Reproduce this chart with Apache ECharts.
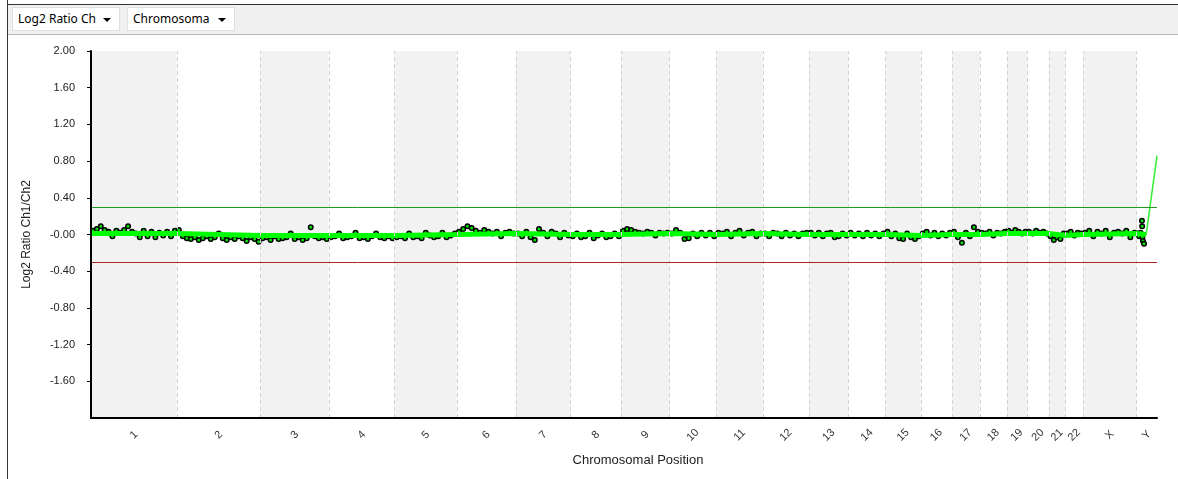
<!DOCTYPE html>
<html>
<head>
<meta charset="utf-8">
<title>Log2 Ratio Ch1/Ch2</title>
<script src="https://cdn.jsdelivr.net/npm/echarts@6.0.0/dist/echarts.min.js"></script>
<style>
body{margin:0;background:#fff;width:1178px;height:479px;overflow:hidden;position:relative;font-family:"Noto Sans",sans-serif}
#chart{position:absolute;left:0;top:0;width:1178px;height:479px}
#frame{position:absolute;left:7px;top:0;width:0;height:479px;border-left:1px solid #333}
#toolbar{position:absolute;left:8px;top:4px;width:1170px;height:29px;background:#f0f0f0;border-top:1px solid #333;border-bottom:1px solid #b8b8b8}
.dd{position:absolute;top:7px;width:108px;height:24px;background:#fff;border:1px solid #e0e0e0;box-sizing:border-box;font-size:12px;line-height:22px;color:#000;padding-left:5px}
.dd .arr{position:absolute;right:8px;top:10px;width:0;height:0;border-left:4px solid transparent;border-right:4px solid transparent;border-top:4px solid #000}
</style>
</head>
<body>
<div id="chart"></div>
<div id="frame"></div>
<div id="toolbar"></div>
<div class="dd" style="left:12px">Log2 Ratio Ch<span class="arr"></span></div>
<div class="dd" style="left:127px">Chromosoma<span class="arr"></span></div>
<script>
// chromosomes (hg19 length, Mb)
var chromNames = ['1','2','3','4','5','6','7','8','9','10','11','12','13','14','15','16','17','18','19','20','21','22','X','Y'];
var chromLengths = [249.3,243.2,198.0,191.2,180.9,171.1,159.1,146.4,141.2,135.5,135.0,133.9,115.2,107.3,102.5,90.4,81.2,78.1,59.1,63.0,48.1,51.3,155.3,59.4];

// segment means per chromosome
var segMeans = [0.01,-0.01,-0.01,-0.01,0,0.01,0,0,0.01,0,0.01,0,0,0,-0.01,0,0,0.01,0.01,0.01,-0.01,0,0.01,0];

// probe log2 ratios, spread along each chromosome
var chr1 = [0.04,0.06,0.09,0.05,0.03,-0.02,0.04,0.02,0.05,0.09,0.03,0.01,-0.03,0.04,-0.02,0.03,-0.03,0.02,-0.01,0.03,-0.02,0.04];
var chr2 = [0.05,-0.02,-0.04,-0.05,-0.03,-0.06,-0.04,-0.02,-0.05,-0.03,0.01,-0.04,-0.06,-0.03,-0.05,-0.02,-0.04,-0.07,-0.03,-0.05,-0.08];
var chr3 = [-0.04,-0.03,-0.06,-0.02,-0.05,-0.04,-0.03,0.01,-0.05,-0.03,-0.06,-0.04,0.08,-0.02,-0.04,-0.03,-0.05];
var chr4 = [-0.03,-0.02,0.01,-0.04,-0.03,-0.02,0.02,-0.04,-0.03,-0.05,-0.02,0.01,-0.03,-0.04,-0.02,-0.04];
var chr5 = [-0.03,-0.02,-0.04,0.01,-0.03,-0.02,-0.04,0.02,-0.01,-0.03,-0.02,0.02,-0.03,-0.01,0.01];
var chr6 = [0.03,0.06,0.09,0.07,0.04,0.02,0.05,0.03,0.01,0.03,-0.02,0.02,0.03,0.01];
var chr7 = [0.01,-0.02,0.03,-0.03,-0.06,0.06,0.02,-0.02,0.03,0.01,-0.03,0.02,-0.01];
var chr8 = [-0.02,0.01,-0.03,-0.02,0.02,-0.04,-0.01,0.01,-0.03,-0.02,0.01,-0.02];
var chr9 = [0.04,0.06,0.05,0.03,0.02,0.01,0.03,0.02,-0.01,0.02,0.01,0.02];
var chr10 = [0.01,0.05,0.02,-0.05,-0.04,0.01,-0.02,0.02,-0.01,0.02,-0.02];
var chr11 = [0.02,0.01,0.03,-0.02,0.02,0.04,-0.01,0.02,0.03,-0.02,0.01];
var chr12 = [0.01,-0.02,0.02,0.01,-0.02,0.02,-0.01,0.01,-0.02,0.01,0.02];
var chr13 = [0.02,-0.01,0.02,-0.02,0.01,0.02,-0.03,-0.02,0.01,-0.01];
var chr14 = [0.02,-0.01,0.01,-0.02,0.02,-0.01,0.01,-0.02,0.01];
var chr15 = [0.03,-0.02,0.01,-0.04,-0.05,0.01,-0.03,-0.05,-0.02];
var chr16 = [0.01,0.03,-0.01,0.02,-0.02,0.01,-0.01,0.02];
var chr17 = [0.03,-0.03,-0.09,0.02,-0.02,0.08,0.03];
var chr18 = [0.02,0.01,0.03,-0.01,0.02,0.01,0.03];
var chr19 = [0.04,0.02,0.05,0.03,0.01,0.03];
var chr20 = [0.03,0.01,0.04,0.02,0.03,0.01];
var chr21 = [-0.02,-0.06,-0.03,-0.05,0.01];
var chr22 = [0.01,0.03,-0.01,0.02,0.01];
var chrX = [0.02,0.04,-0.02,0.03,0.01,0.04,-0.03,0.02,0.03,0.01,0.04,-0.03,0.02];
var probeValues = [chr1,chr2,chr3,chr4,chr5,chr6,chr7,chr8,chr9,chr10,chr11,chr12,chr13,chr14,chr15,chr16,chr17,chr18,chr19,chr20,chr21,chr22,chrX];

// chromosome Y probes (position Mb, value)
var chrYPos = [3039, 3044, 3048, 3052, 3052.5, 3053, 3055, 3058];
var chrYVal = [0.01, -0.02, 0.02, 0.15, 0.09, -0.03, -0.07, -0.1];

// end of the profile, rising in Y
var riseX = [3064, 3095.7];
var riseY = [-0.01, 0.86];

var upperThreshold = 0.3;
var lowerThreshold = -0.3;

// ---- build
var starts = [], ends = [], centers = [];
var pos = 0;
for (var i = 0; i < chromLengths.length; i++) {
    starts.push(pos);
    pos += chromLengths[i];
    ends.push(pos);
    centers.push(starts[i] + chromLengths[i] / 2);
}
var genomeLength = pos;

var points = [];
for (var c = 0; c < probeValues.length; c++) {
    var vals = probeValues[c];
    for (var j = 0; j < vals.length; j++) {
        points.push([starts[c] + (j + 0.5) * chromLengths[c] / vals.length, vals[j]]);
    }
}
for (var k = 0; k < chrYPos.length; k++) points.push([chrYPos[k], chrYVal[k]]);

var segLine = [];
for (var s = 0; s < chromNames.length; s++) {
    segLine.push([starts[s], segMeans[s]]);
    segLine.push([s == chromNames.length - 1 ? riseX[0] : ends[s], segMeans[s]]);
}
var riseLine = [[riseX[0], riseY[0]], [riseX[1], riseY[1]]];

var bands = [], seps = [];
for (var b = 0; b < chromNames.length; b++) {
    if (b % 2 == 0 && b < 23) bands.push([{xAxis: starts[b]}, {xAxis: ends[b]}]);
    if (b < chromNames.length - 1) seps.push({xAxis: ends[b]});
}

var option = {
    animation: false,
    grid: {left: 91, right: 21, top: 51, bottom: 61},
    xAxis: {
        type: 'value',
        min: 0,
        max: genomeLength,
        z: 5,
        name: 'Chromosomal Position',
        nameLocation: 'middle',
        nameGap: 36,
        nameTextStyle: {fontFamily: 'Liberation Sans', fontSize: 13, color: '#222', padding: [0, 0, 0, 28]},
        axisLine: {onZero: false, lineStyle: {color: '#000', width: 2}},
        axisTick: {show: false},
        splitLine: {show: false},
        axisLabel: {
            customValues: centers,
            rotate: 45,
            align: 'center',
            verticalAlign: 'middle',
            margin: 17,
            fontFamily: 'Liberation Sans',
            fontSize: 11,
            color: '#333',
            formatter: function (v) {
                var best = 0;
                for (var i = 1; i < centers.length; i++) {
                    if (Math.abs(centers[i] - v) < Math.abs(centers[best] - v)) best = i;
                }
                return chromNames[best];
            }
        }
    },
    yAxis: {
        type: 'value',
        min: -2,
        max: 2,
        interval: 0.4,
        z: 5,
        name: 'Log2 Ratio Ch1/Ch2',
        nameLocation: 'middle',
        nameGap: 58,
        nameTextStyle: {fontFamily: 'Liberation Sans', fontSize: 12, color: '#222'},
        axisLine: {show: true, onZero: false, lineStyle: {color: '#000', width: 2}},
        axisTick: {show: true, length: 4, lineStyle: {color: '#000'}},
        splitLine: {show: false},
        axisLabel: {
            showMinLabel: false,
            margin: 16,
            fontFamily: 'Liberation Sans',
            fontSize: 11,
            color: '#222',
            formatter: function (v) {
                if (Math.abs(v) < 1e-9) return '-0.00';
                return v.toFixed(2);
            }
        }
    },
    series: [
        {
            type: 'line',
            data: [],
            z: 1,
            markArea: {silent: true, itemStyle: {color: '#f2f2f2'}, data: bands},
            markLine: {
                silent: true,
                symbol: 'none',
                label: {show: false},
                lineStyle: {color: '#d2d2d2', type: [4, 3], width: 1},
                data: seps
            }
        },
        {
            type: 'line',
            data: [],
            z: 2,
            markLine: {
                silent: true,
                symbol: 'none',
                label: {show: false},
                data: [
                    {yAxis: upperThreshold, lineStyle: {color: '#1e9a1e', type: 'solid', width: 1}},
                    {yAxis: lowerThreshold, lineStyle: {color: '#a82828', type: 'solid', width: 1}}
                ]
            }
        },
        {
            type: 'scatter',
            z: 3,
            symbol: 'circle',
            symbolSize: 4.5,
            itemStyle: {color: '#00e000', borderColor: '#000', borderWidth: 1.5, opacity: 1},
            data: points
        },
        {
            type: 'line',
            z: 4,
            showSymbol: false,
            lineStyle: {color: '#00ff00', width: 5},
            data: segLine
        },
        {
            type: 'line',
            z: 4,
            showSymbol: false,
            lineStyle: {color: '#33ee33', width: 1.5},
            data: riseLine
        }
    ]
};

var myChart = echarts.init(document.getElementById('chart'));
myChart.setOption(option);
</script>
</body>
</html>
